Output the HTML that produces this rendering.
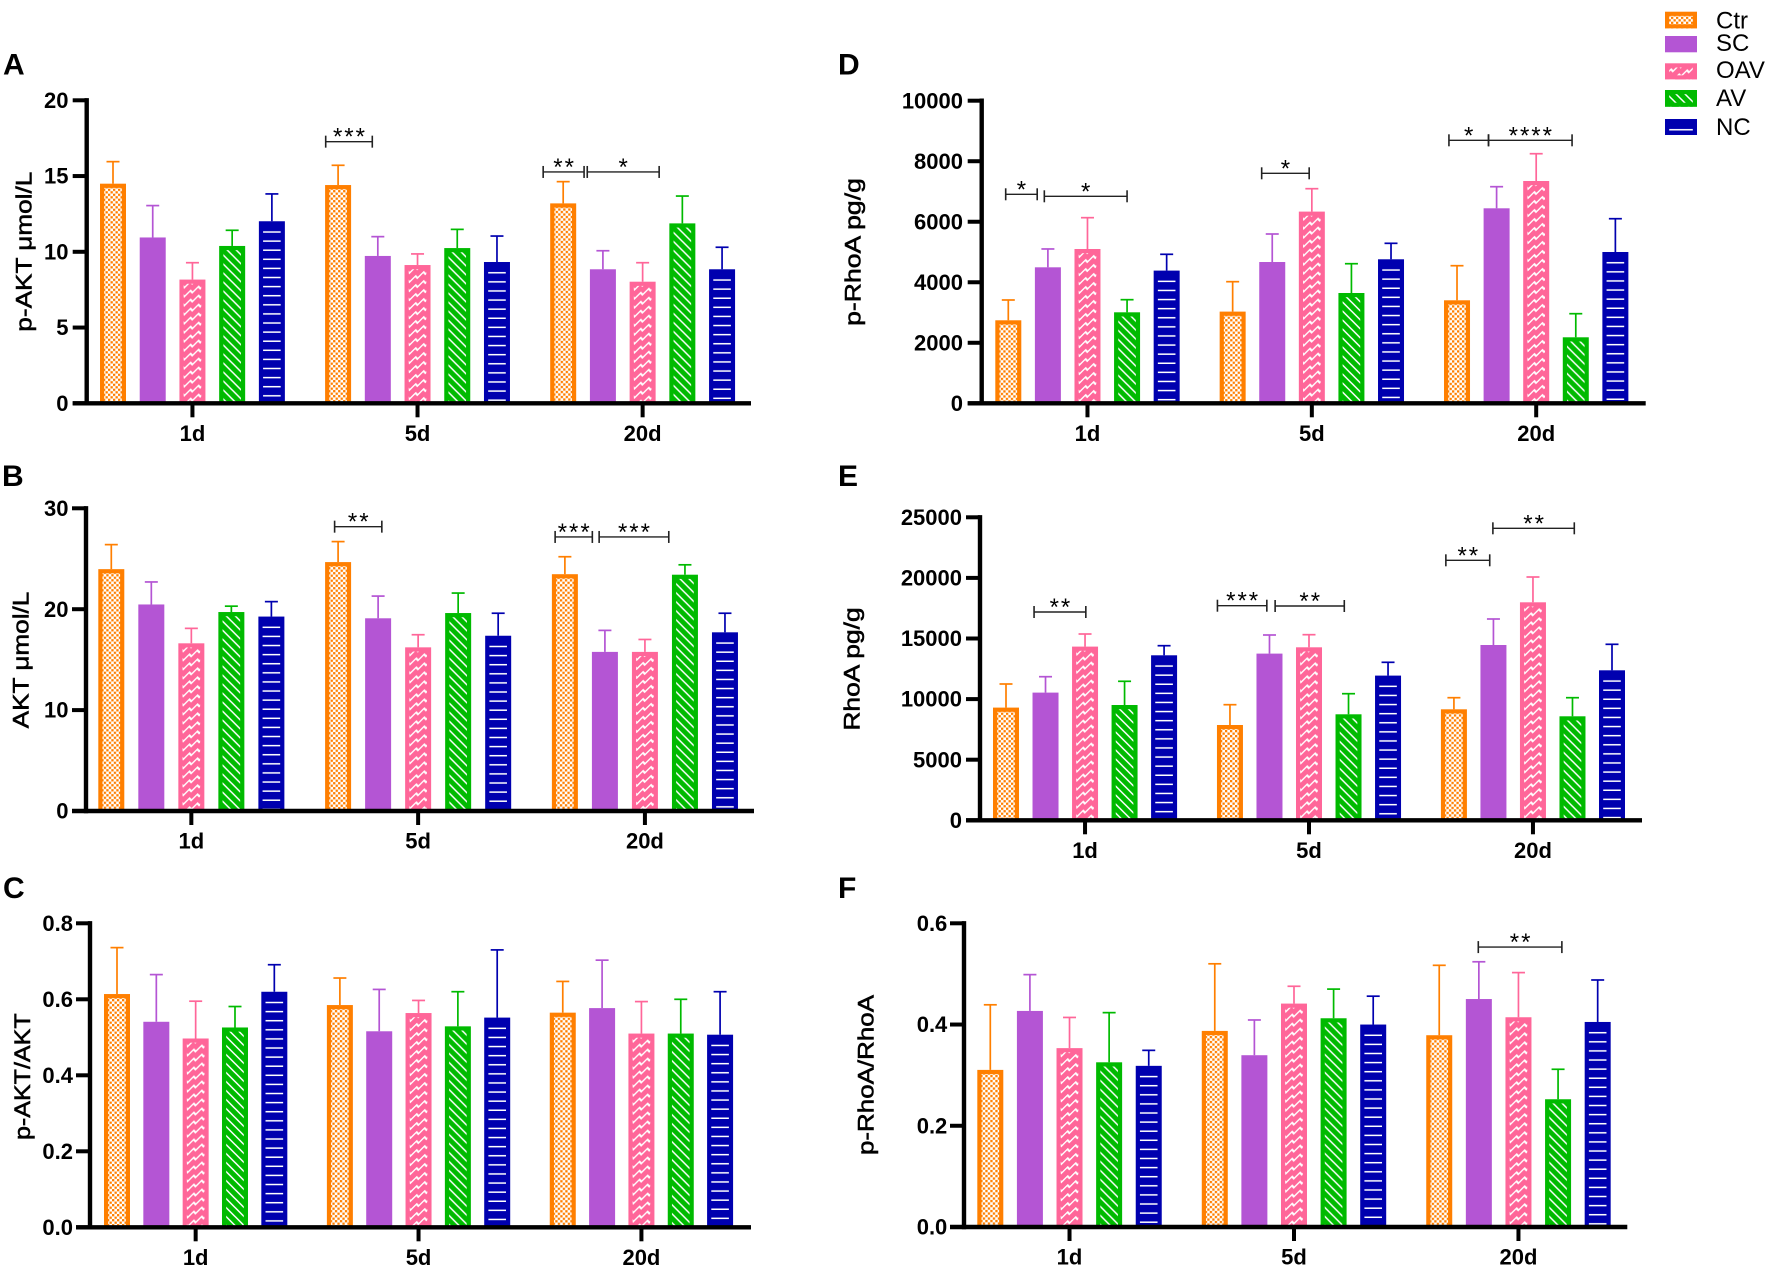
<!DOCTYPE html>
<html lang="en">
<head>
<meta charset="utf-8">
<title>p-AKT and p-RhoA bar charts</title>
<style>
html,body{margin:0;padding:0;background:#fff}
svg{display:block}
text{font-family:"Liberation Sans",Arial,sans-serif;fill:#000}
.tick{font-size:22px;font-weight:700}
.title{font-size:22.5px;font-weight:400;stroke:#000;stroke-width:0.55px}
.letter{font-size:30px;font-weight:700}
.legend{font-size:24px}
.star{font-size:24px;letter-spacing:2px}
</style>
</head>
<body>
<svg id="figure" xmlns="http://www.w3.org/2000/svg" width="1772" height="1270" viewBox="0 0 1772 1270">
<defs>
<pattern id="pat-ctr" patternUnits="userSpaceOnUse" width="5" height="5">
<rect width="5" height="5" fill="#fff"/>
<rect width="2.3" height="2.3" fill="#ff7f00"/>
<rect x="2.5" y="2.5" width="2.3" height="2.3" fill="#ff7f00"/>
</pattern>
<pattern id="pat-oav" patternUnits="userSpaceOnUse" width="8" height="9" patternTransform="skewY(-26.57)">
<rect x="-1" y="-1" width="10" height="11" fill="#ff6699"/>
<path d="M-2,1 L0,4 L6,1 L8,4 L10,3" stroke="#fff" stroke-width="1.7" fill="none"/>
</pattern>
<pattern id="pat-av" patternUnits="userSpaceOnUse" width="9" height="9">
<rect width="9" height="9" fill="#00ba00"/>
<path d="M-1,-1 L10,10 M-1,8 L1,10 M8,-1 L10,1" stroke="#fff" stroke-width="1.5" fill="none"/>
</pattern>
<pattern id="pat-nc" patternUnits="userSpaceOnUse" width="100" height="9.1">
<rect width="100" height="9.1" fill="#0000af"/>
<rect y="0.9" width="100" height="1.5" fill="#fff"/>
</pattern>
</defs>
</svg>
<script>
const categories = ['1d', '5d', '20d'];
const seriesNames = ['Ctr', 'SC', 'OAV', 'AV', 'NC'];

const ticksA = ['0', '5', '10', '15', '20'];
const meansA = [[14.45, 10.9, 8.12, 10.34, 11.97], [14.36, 9.68, 9.08, 10.2, 9.28], [13.15, 8.8, 7.98, 11.83, 8.8]];
const upperA = [[15.95, 13.05, 9.28, 11.42, 13.82], [15.71, 11.0, 9.86, 11.48, 11.04], [14.63, 10.07, 9.28, 13.68, 10.3]];

const ticksB = ['0', '10', '20', '30'];
const meansB = [[23.9, 20.4, 16.55, 19.65, 19.2], [24.6, 19.03, 16.15, 19.55, 17.3], [23.4, 15.7, 15.7, 23.35, 17.64]];
const upperB = [[26.4, 22.7, 18.1, 20.3, 20.75], [26.7, 21.3, 17.47, 21.6, 19.6], [25.2, 17.9, 17.0, 24.4, 19.6]];

const ticksC = ['0.0', '0.2', '0.4', '0.6', '0.8'];
const meansC = [[0.612, 0.539, 0.495, 0.524, 0.618], [0.583, 0.514, 0.562, 0.527, 0.55], [0.563, 0.575, 0.508, 0.508, 0.505]];
const upperC = [[0.736, 0.665, 0.595, 0.581, 0.691], [0.656, 0.626, 0.597, 0.62, 0.73], [0.647, 0.703, 0.594, 0.6, 0.62]];

const ticksD = ['0', '2000', '4000', '6000', '8000', '10000'];
const meansD = [[2720, 4471, 5076, 2984, 4362], [3007, 4646, 6312, 3622, 4736], [3381, 6421, 7323, 2158, 4977]];
const upperD = [[3414, 5100, 6134, 3424, 4924], [4019, 5595, 7092, 4613, 5287], [4547, 7158, 8248, 2961, 6100]];

const ticksE = ['0', '5000', '10000', '15000', '20000', '25000'];
const meansE = [[9241, 10478, 14274, 9455, 13556], [7805, 13696, 14216, 8688, 11881], [9100, 14406, 17929, 8523, 12318]];
const upperE = [[11246, 11848, 15371, 11469, 14406], [9538, 15289, 15314, 10445, 13036], [10115, 16609, 20074, 10115, 14521]];

const ticksF = ['0.0', '0.2', '0.4', '0.6'];
const meansF = [[0.309, 0.4255, 0.352, 0.324, 0.317], [0.386, 0.338, 0.44, 0.411, 0.3986], [0.3775, 0.449, 0.413, 0.251, 0.4037]];
const upperF = [[0.439, 0.4986, 0.414, 0.4235, 0.349], [0.52, 0.409, 0.4756, 0.47, 0.456], [0.517, 0.524, 0.5026, 0.3116, 0.488]];

/* significance brackets: from-slot, to-slot, value on the y axis, stars */
const bracketsA = [[5.355, 6.528, 17.27, '***'], [10.83, 11.86, 15.27, '**'], [11.94, 13.75, 15.27, '*']];
const bracketsB = [[5.58, 6.76, 28.18, '**'], [11.09, 12.02, 27.16, '***'], [12.19, 13.93, 27.16, '***']];
const bracketsC = [];
const bracketsD = [[-0.066, 0.73, 6907, '*'], [0.91, 3.0, 6841, '*'], [6.4, 7.6, 7601, '*'], [11.13, 12.13, 8691, '*'], [12.13, 14.24, 8691, '****']];
const bracketsE = [[0.71, 2.02, 17186, '**'], [5.35, 6.6, 17706, '***'], [6.81, 8.56, 17681, '**'], [11.13, 12.24, 21452, '**'], [12.32, 14.38, 24092, '**']];
const bracketsF = [[12.32, 14.43, 0.553, '**']];

const colors = ['#ff7f00', '#b455d4', '#ff6699', '#00ba00', '#0000af'];
const fills = ['url(#pat-ctr)', null, 'url(#pat-oav)', 'url(#pat-av)', 'url(#pat-nc)'];
const SLOTS_PER_GROUP = 5.667;
const BAR_WIDTH = 26;
const BORDER = 4.2;
const CAP_WIDTH = 13;
const TOP_NUDGE = 0.7;

const panels = [
  {letter: 'A', lx: 3, ly: 74.6, title: 'p-AKT μmol/L', tx: 31.5, ty: 251.7, tl: 160, axisX: 86.7, y0: 403.3, yTop: 100.3, xEnd: 751, x0: 113, step: 39.72, labelX: 68.5, max: 20, ticks: ticksA, means: meansA, upper: upperA, brackets: bracketsA},
  {letter: 'B', lx: 2, ly: 486, title: 'AKT μmol/L', tx: 28.3, ty: 660, tl: 136.7, axisX: 86, y0: 811, yTop: 508.3, xEnd: 754, x0: 111.3, step: 40.02, labelX: 68.5, max: 30, ticks: ticksB, means: meansB, upper: upperB, brackets: bracketsB},
  {letter: 'C', lx: 3, ly: 898, title: 'p-AKT/AKT', tx: 30, ty: 1076.7, tl: 126.7, axisX: 90, y0: 1227.3, yTop: 923.3, xEnd: 751, x0: 117, step: 39.33, labelX: 73, max: 0.8, ticks: ticksC, means: meansC, upper: upperC, brackets: bracketsC},
  {letter: 'D', lx: 838, ly: 74.6, title: 'p-RhoA pg/g', tx: 860.7, ty: 252, tl: 147.7, axisX: 981.7, y0: 403.3, yTop: 100.7, xEnd: 1645.7, x0: 1008.3, step: 39.59, labelX: 963, max: 10000, ticks: ticksD, means: meansD, upper: upperD, brackets: bracketsD},
  {letter: 'E', lx: 838, ly: 486, title: 'RhoA pg/g', tx: 859.3, ty: 669, tl: 123.4, axisX: 980, y0: 820.3, yTop: 517.3, xEnd: 1642, x0: 1006, step: 39.52, labelX: 962, max: 25000, ticks: ticksE, means: meansE, upper: upperE, brackets: bracketsE},
  {letter: 'F', lx: 838, ly: 898, title: 'p-RhoA/RhoA', tx: 873.3, ty: 1075, tl: 160, axisX: 964, y0: 1227, yTop: 923.3, xEnd: 1627.3, x0: 990.3, step: 39.61, labelX: 947.3, max: 0.6, ticks: ticksF, means: meansF, upper: upperF, brackets: bracketsF}
];

const legendRows = [
  {top: 11.7, h: 16.6, base: 28.3},
  {top: 36, h: 16.3, base: 51},
  {top: 63.3, h: 16, base: 78},
  {top: 90, h: 16.7, base: 106},
  {top: 119, h: 16, base: 135}
];

const NS = 'http://www.w3.org/2000/svg';
const root = document.getElementById('figure');

function node(tag, parent, attrs, content) {
  const el = document.createElementNS(NS, tag);
  for (const key in attrs) el.setAttribute(key, attrs[key]);
  if (content !== undefined) el.textContent = content;
  parent.appendChild(el);
  return el;
}

function drawBarShape(group, width, height, seriesIndex) {
  const outer = node('rect', group, {x: -width / 2, y: 0, width: width, height: height, fill: colors[seriesIndex]});
  
  
  if (fills[seriesIndex] && height > BORDER) {
    const inner = node('rect', group, {x: -width / 2 + BORDER, y: BORDER, width: width - 2 * BORDER, height: height - BORDER, fill: fills[seriesIndex]});
    
    
  }
}

function drawPanel(p) {
  const panel = node('g', root, {});
  
  

  const yScale = v => p.y0 - (v / p.max) * (p.y0 - p.yTop);
  const xScale = slot => p.x0 + slot * p.step;
  const barSlot = (g, s) => g * SLOTS_PER_GROUP + s;

  const letter = node('text', panel, {x: p.lx, y: p.ly, class: 'letter'}, p.letter);
  
  

  const title = node('text', panel, {
    x: 0, y: 0, class: 'title', 'text-anchor': 'middle',
    transform: 'translate(' + p.tx + ' ' + p.ty + ') rotate(-90)',
    textLength: p.tl, lengthAdjust: 'spacingAndGlyphs'
  }, p.title);
  
  

  categories.forEach((cat, g) => {
    seriesNames.forEach((name, s) => {
      const cx = xScale(barSlot(g, s));
      const top = yScale(p.means[g][s]) - TOP_NUDGE;
      const cap = yScale(p.upper[g][s]);
      const base = yScale(0);

      const err = node('g', panel, {stroke: colors[s], 'stroke-width': 1.7});
      
      
      node('line', err, {x1: cx, x2: cx, y1: top, y2: cap});
      node('line', err, {x1: cx - CAP_WIDTH / 2, x2: cx + CAP_WIDTH / 2, y1: cap, y2: cap});

      const bar = node('g', panel, {transform: 'translate(' + cx + ' ' + top + ')'});
      
      
      drawBarShape(bar, BAR_WIDTH, base - top, s);
    });
  });

  const yAxis = node('line', panel, {x1: p.axisX, x2: p.axisX, y1: p.yTop - 2.2, y2: p.y0 + 2.2, stroke: '#000', 'stroke-width': 4.4});
  
  

  const xAxis = node('line', panel, {x1: p.axisX - 14, x2: p.xEnd, y1: p.y0, y2: p.y0, stroke: '#000', 'stroke-width': 4.4});
  
  

  p.ticks.forEach(label => {
    const y = yScale(parseFloat(label));
    const mark = node('line', panel, {x1: p.axisX - 14, x2: p.axisX, y1: y, y2: y, stroke: '#000', 'stroke-width': 4});
    
    
    const text = node('text', panel, {x: p.labelX, y: y + 7.6, class: 'tick', 'text-anchor': 'end'}, label);
    
    
  });

  categories.forEach((cat, g) => {
    const x = xScale(barSlot(g, 2));
    const mark = node('line', panel, {x1: x, x2: x, y1: p.y0, y2: p.y0 + 14, stroke: '#000', 'stroke-width': 4});
    
    
    const text = node('text', panel, {x: x, y: p.y0 + 37.5, class: 'tick', 'text-anchor': 'middle'}, cat);
    
    
  });

  p.brackets.forEach(b => {
    const x1 = xScale(b[0]);
    const x2 = xScale(b[1]);
    const y = yScale(b[2]);
    const br = node('g', panel, {stroke: '#222', fill: 'none'});
    
    
    node('line', br, {x1: x1, x2: x2, y1: y, y2: y, 'stroke-width': 1.4});
    node('line', br, {x1: x1, x2: x1, y1: y - 6, y2: y + 6, 'stroke-width': 1.6});
    node('line', br, {x1: x2, x2: x2, y1: y - 6, y2: y + 6, 'stroke-width': 1.6});
    const stars = node('text', panel, {x: (x1 + x2) / 2 + 1, y: y + 3, class: 'star', 'text-anchor': 'middle'}, b[3]);
    
    
  });
}

panels.forEach(drawPanel);

const legend = node('g', root, {});


seriesNames.forEach((name, s) => {
  const row = legendRows[s];
  const entry = node('g', legend, {});
  
  
  const swatch = node('g', entry, {transform: 'translate(1681 ' + row.top + ')'});
  
  
  drawBarShape(swatch, 32, row.h, s);
  if (fills[s]) {
    const bottom = node('rect', swatch, {x: -16, y: row.h - 4, width: 32, height: 4, fill: colors[s]});
    
    
  }
  const label = node('text', entry, {x: 1716, y: row.base, class: 'legend'}, name);
  
  
});
</script>
</body>
</html>
